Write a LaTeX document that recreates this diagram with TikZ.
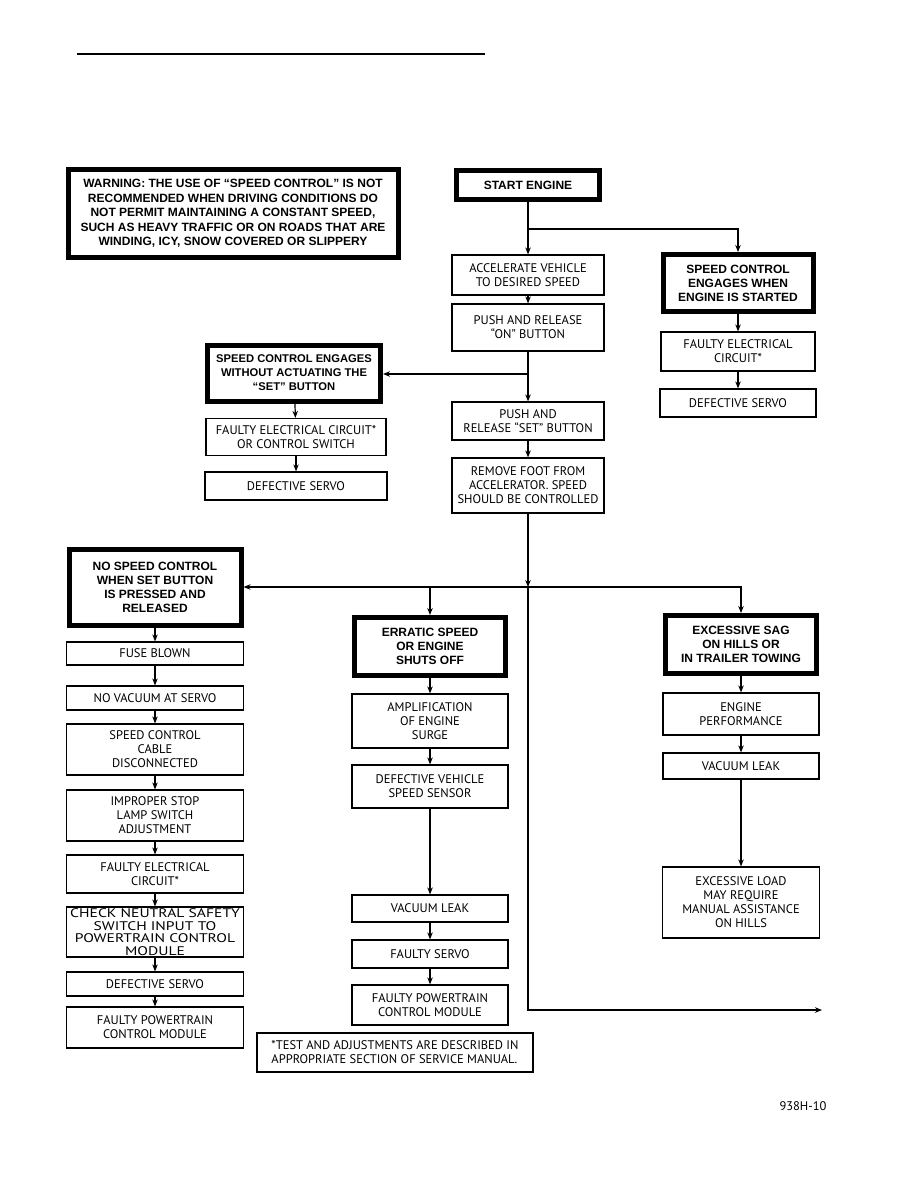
\documentclass[tikz,border=0pt]{standalone}
\usepackage{fontspec}
\setmainfont{PT Sans}
\newfontfamily\headfont{Liberation Sans}
\newfontfamily\widefont[FakeStretch=1.25]{PT Sans}
\usetikzlibrary{arrows.meta}

\begin{document}
\begin{tikzpicture}[x=1pt,y=-1pt,
    box/.style={draw,line width=1.2pt,align=center,inner sep=0pt,
      font=\fontsize{12.5}{14}\selectfont},
    hbox/.style={box,line width=5pt,
      font=\headfont\fontsize{12}{14}\selectfont\bfseries},
    arr/.style={line width=1.2pt,-{Stealth[length=7pt,width=5.5pt]}}]
    \useasboundingbox (0,0) rectangle (918,1188);
    \draw[line width=2pt] (77,54) -- (485,54);
    % warning and main column
    \node[hbox,minimum width=330,minimum height=88,
    font=\headfont\fontsize{12}{14.5}\selectfont\bfseries] (warn) at (233,213.5)
    {WARNING: THE USE OF “SPEED CONTROL” IS NOT\\RECOMMENDED WHEN DRIVING
      CONDITIONS DO\\NOT PERMIT MAINTAINING A CONSTANT SPEED,\\SUCH AS HEAVY
      TRAFFIC OR ON ROADS THAT ARE\\WINDING, ICY, SNOW COVERED OR SLIPPERY};
    \node[hbox,minimum width=143,minimum height=29] (start) at (528,185)
    {START ENGINE}; \node[box,minimum width=152,minimum height=40] (accel)
    at (528,275) {ACCELERATE VEHICLE\\TO DESIRED SPEED};
    \node[box,minimum width=152,minimum height=47] (pushon) at (528,327.5)
    {PUSH AND RELEASE\\“ON” BUTTON}; \node[box,minimum width=152,minimum
    height=38] (pushset) at (528,421) {PUSH AND\\RELEASE “SET” BUTTON};
    \node[box,minimum width=152,minimum height=55] (foot) at (528,485.5)
    {REMOVE FOOT FROM\\ACCELERATOR. SPEED\\SHOULD BE CONTROLLED};
    % engages at start
    \node[hbox,minimum width=150,minimum height=57] (engstart) at (738,283)
    {SPEED CONTROL\\ENGAGES WHEN\\ENGINE IS STARTED};
    \node[box,minimum width=154,minimum height=39] (faultyA) at (738,351.5)
    {FAULTY ELECTRICAL\\CIRCUIT*}; \node[box,minimum width=156,minimum
    height=28] (servoA) at (738,403) {DEFECTIVE SERVO};
    % engages without set
    \node[hbox,minimum width=173,minimum height=56,
    font=\headfont\fontsize{11.2}{14}\selectfont\bfseries] (noset) at (294,373)
    {SPEED CONTROL ENGAGES\\WITHOUT ACTUATING THE\\“SET” BUTTON};
    \node[box,minimum width=180,minimum height=37] (faultyB) at (296,437)
    {FAULTY ELECTRICAL CIRCUIT*\\OR CONTROL SWITCH};
    \node[box,minimum width=182,minimum height=28] (servoB) at (296,486)
    {DEFECTIVE SERVO};
    % no speed control
    \node[hbox,minimum width=172,minimum height=76] (noctl) at (155,587.5)
    {NO SPEED CONTROL\\WHEN SET BUTTON\\IS PRESSED AND\\RELEASED};
    \node[box,minimum width=177,minimum height=23] (fuse) at (155,653.5)
    {FUSE BLOWN}; \node[box,minimum width=177,minimum height=24] (novac)
    at (155,698) {NO VACUUM AT SERVO}; \node[box,minimum width=177,minimum
    height=51] (cable) at (155,749.5) {SPEED CONTROL\\CABLE\\DISCONNECTED};
    \node[box,minimum width=177,minimum height=51] (lamp) at (155,815.5)
    {IMPROPER STOP\\LAMP SWITCH\\ADJUSTMENT}; \node[box,minimum width=177,
    minimum height=38] (faultyC) at (155,874) {FAULTY ELECTRICAL\\CIRCUIT*};
    \node[box,minimum width=177,minimum height=50,
    font=\widefont\fontsize{12.5}{12.5}\selectfont] (neutral) at (155,932)
    {CHECK NEUTRAL SAFETY\\SWITCH INPUT TO\\POWERTRAIN CONTROL\\MODULE};
    \node[box,minimum width=177,minimum height=24] (servoC) at (155,984)
    {DEFECTIVE SERVO}; \node[box,minimum width=177,minimum height=41]
    (pcmC) at (155,1027.5) {FAULTY POWERTRAIN\\CONTROL MODULE};
    % erratic speed
    \node[hbox,minimum width=151,minimum height=58] (erratic) at
    (430,646.5) {ERRATIC SPEED\\OR ENGINE\\SHUTS OFF};
    \node[box,minimum width=156,minimum height=54] (surge) at (430,721)
    {AMPLIFICATION\\OF ENGINE\\SURGE}; \node[box,minimum width=156,minimum
    height=43] (vss) at (430,786.5) {DEFECTIVE VEHICLE\\SPEED SENSOR};
    \node[box,minimum width=156,minimum height=27] (leakD) at (430,908.5)
    {VACUUM LEAK}; \node[box,minimum width=156,minimum height=28] (servoD)
    at (430,954) {FAULTY SERVO}; \node[box,minimum width=156,minimum
    height=40] (pcmD) at (430,1005) {FAULTY POWERTRAIN\\CONTROL MODULE};
    \node[box,minimum width=276,minimum height=39,align=left] (note) at
    (395,1052.5) {*TEST AND ADJUSTMENTS ARE DESCRIBED IN\\APPROPRIATE
      SECTION OF SERVICE MANUAL.};
    % sag on hills
    \node[hbox,minimum width=151,minimum height=58] (sag) at (741,644.5)
    {EXCESSIVE SAG\\ON HILLS OR\\IN TRAILER TOWING};
    \node[box,minimum width=156,minimum height=42] (perf) at (741,714)
    {ENGINE\\PERFORMANCE}; \node[box,minimum width=156,minimum height=26]
    (leakE) at (741,766) {VACUUM LEAK}; \node[box,minimum width=157,minimum
    height=71] (load) at (741,902.5) {EXCESSIVE LOAD\\MAY REQUIRE\\MANUAL
      ASSISTANCE\\ON HILLS};
    \node (fig) at (803,1106) {\fontsize{12.5}{14}\selectfont 938H-10};
    % connectors
    \coordinate (j1) at (528,229); \coordinate (j2) at (528,374);
    \coordinate (j3) at (528,587); \coordinate (corner) at (528,1010);
    \coordinate (exit) at (822,1010);
    \draw[arr] (start) -- (accel); \draw[arr] (j1) -| (engstart);
    \draw[arr] (j2) -- (j2 -| noset.east); \draw[arr] (foot) -- (j3);
    \draw[arr] (j3) -- (corner) -- (exit); \draw[arr] (j3) -- (j3 -|
    noctl.east); \draw[arr] (j3) -| (sag); \draw[arr] (j3 -| erratic) --
    (erratic);
    \foreach \a/\b in {accel/pushon,pushon/pushset,pushset/foot,
      engstart/faultyA,faultyA/servoA,noset/faultyB,faultyB/servoB,
      noctl/fuse,fuse/novac,novac/cable,cable/lamp,lamp/faultyC,
      faultyC/neutral,neutral/servoC,servoC/pcmC,erratic/surge,surge/vss,
      vss/leakD,leakD/servoD,servoD/pcmD,sag/perf,perf/leakE,leakE/load}
    { \draw[arr] (\a) -- (\b); }
  \end{tikzpicture}
\end{document}
